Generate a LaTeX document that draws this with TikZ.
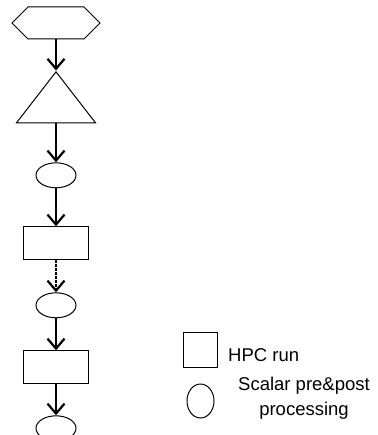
\documentclass[tikz,border=0pt]{standalone}
\usepackage{fontspec}
\setmainfont{Liberation Sans}
\usetikzlibrary{shapes.geometric,shapes.symbols,arrows.meta,positioning}

\begin{document}
\begin{tikzpicture}[
    x=1pt, y=-1pt,
    node distance=31pt,
    hexbox/.style={signal, signal to=east and west, signal pointer angle=90, draw, line width=1pt, minimum width=88pt, minimum height=32pt, inner sep=0pt},
    tri/.style={isosceles triangle, isosceles triangle stretches, shape border rotate=90, draw, line width=1pt, minimum width=79pt, minimum height=51pt, inner sep=0pt},
    scalar/.style={ellipse, draw, line width=1pt, minimum width=40pt, minimum height=25pt, inner sep=0pt},
    hpc/.style={rectangle, draw, line width=1pt, minimum width=65pt, minimum height=33pt, inner sep=0pt},
    flow/.style={-{Straight Barb[length=10pt,width=17pt]}, line width=2.2pt},
    legendtext/.style={font=\fontsize{18.5}{25}\selectfont, inner sep=0pt, align=center}
]
    \useasboundingbox (0,0) rectangle (377,435);

    % Main flow
    \node[hexbox] (hex) at (56,23) {};
    \node[tri, below=31pt of hex, anchor=apex] (tri) {};
    \node[scalar, below=39pt of tri.lower side] (pre1) {};
    \node[hpc, below=38pt of pre1] (run1) {};
    \node[scalar, below=32pt of run1] (pre2) {};
    \node[hpc, below=32pt of pre2] (run2) {};
    \node[scalar, below=31pt of run2] (pre3) {};

    % Legend
    \node[hpc, minimum width=34pt, minimum height=35pt] (keyhpc) at (200,349.5) {};
    \node[scalar, minimum width=27pt, minimum height=34pt] (keyscalar) at (200.5,401) {};
    \node[legendtext, anchor=base west] (hpctext) at (228,361) {HPC run};
    \node[legendtext, anchor=north] (scalartext) at (304,377) {Scalar pre\&post\\processing};

    % Connections
    \draw[flow] (hex) -- (tri.apex);
    \draw[flow] (tri.lower side) -- (pre1);
    \draw[flow] (pre1) -- (run1);
    \draw[flow, dash pattern=on 2.5pt off 1.5pt] (run1) -- (pre2);
    \draw[flow] (pre2) -- (run2);
    \draw[flow] (run2) -- (pre3);
\end{tikzpicture}
\end{document}
